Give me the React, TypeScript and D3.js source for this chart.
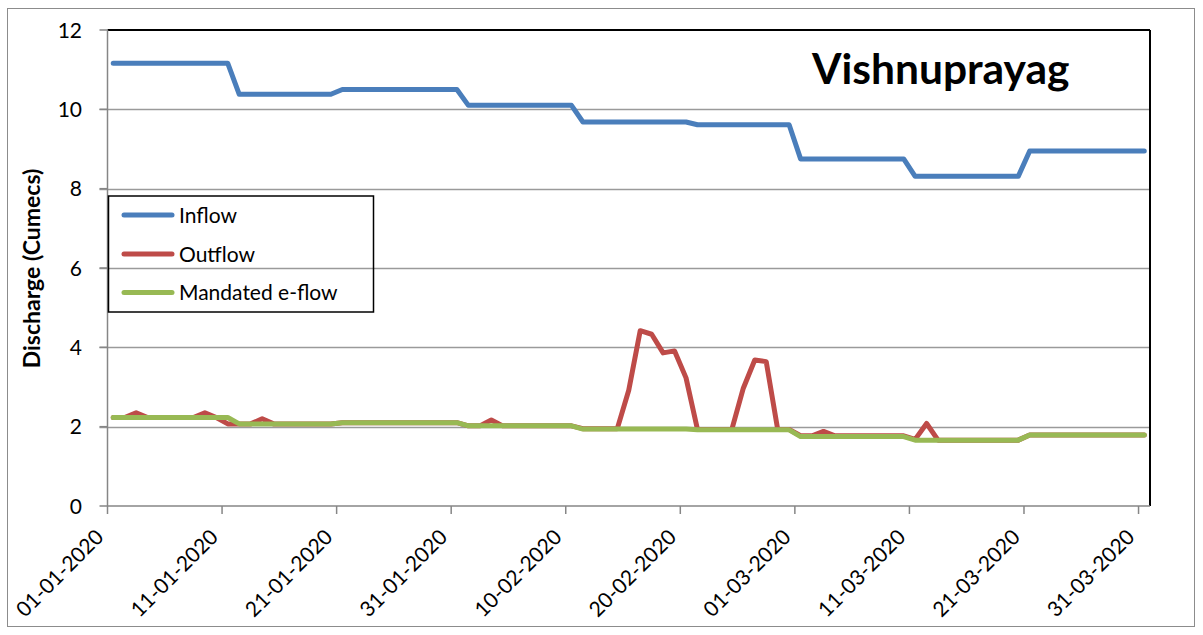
import React from "react";
import * as d3 from "d3";

const tickLabels = [
  "01-01-2020", "11-01-2020", "21-01-2020", "31-01-2020", "10-02-2020",
  "20-02-2020", "01-03-2020", "11-03-2020", "21-03-2020", "31-03-2020",
];
const yTicks = [0, 2, 4, 6, 8, 10, 12];

// daily values, 01-01-2020 .. 31-03-2020 (91 days)
const inflow = [
  11.16, 11.16, 11.16, 11.16, 11.16, 11.16, 11.16, 11.16, 11.16, 11.16, 11.16,
  10.38, 10.38, 10.38, 10.38, 10.38, 10.38, 10.38, 10.38, 10.38,
  10.5, 10.5, 10.5, 10.5, 10.5, 10.5, 10.5, 10.5, 10.5, 10.5, 10.5,
  10.1, 10.1, 10.1, 10.1, 10.1, 10.1, 10.1, 10.1, 10.1, 10.1,
  9.68, 9.68, 9.68, 9.68, 9.68, 9.68, 9.68, 9.68, 9.68, 9.68,
  9.61, 9.61, 9.61, 9.61, 9.61, 9.61, 9.61, 9.61, 9.61,
  8.75, 8.75, 8.75, 8.75, 8.75, 8.75, 8.75, 8.75, 8.75, 8.75,
  8.31, 8.31, 8.31, 8.31, 8.31, 8.31, 8.31, 8.31, 8.31, 8.31,
  8.95, 8.95, 8.95, 8.95, 8.95, 8.95, 8.95, 8.95, 8.95, 8.95, 8.95,
];
const outflow = [
  2.23, 2.23, 2.35, 2.23, 2.23, 2.23, 2.23, 2.23, 2.35, 2.23, 2.07,
  2.07, 2.07, 2.2, 2.07, 2.07, 2.07, 2.07, 2.07, 2.07,
  2.1, 2.1, 2.1, 2.1, 2.1, 2.1, 2.1, 2.1, 2.1, 2.1, 2.1,
  2.02, 2.02, 2.17, 2.02, 2.02, 2.02, 2.02, 2.02, 2.02, 2.02,
  1.95, 1.95, 1.95, 1.95, 2.92, 4.42, 4.33, 3.86, 3.91, 3.23,
  1.93, 1.93, 1.93, 1.93, 2.97, 3.68, 3.64, 1.93, 1.93,
  1.77, 1.77, 1.88, 1.77, 1.77, 1.77, 1.77, 1.77, 1.77, 1.77,
  1.68, 2.08, 1.66, 1.66, 1.66, 1.66, 1.66, 1.66, 1.66, 1.66,
  1.79, 1.79, 1.79, 1.79, 1.79, 1.79, 1.79, 1.79, 1.79, 1.79, 1.79,
];
const eflow = [
  2.23, 2.23, 2.23, 2.23, 2.23, 2.23, 2.23, 2.23, 2.23, 2.23, 2.23,
  2.07, 2.07, 2.07, 2.07, 2.07, 2.07, 2.07, 2.07, 2.07,
  2.1, 2.1, 2.1, 2.1, 2.1, 2.1, 2.1, 2.1, 2.1, 2.1, 2.1,
  2.02, 2.02, 2.02, 2.02, 2.02, 2.02, 2.02, 2.02, 2.02, 2.02,
  1.94, 1.94, 1.94, 1.94, 1.94, 1.94, 1.94, 1.94, 1.94, 1.94,
  1.92, 1.92, 1.92, 1.92, 1.92, 1.92, 1.92, 1.92, 1.92,
  1.75, 1.75, 1.75, 1.75, 1.75, 1.75, 1.75, 1.75, 1.75, 1.75,
  1.66, 1.66, 1.66, 1.66, 1.66, 1.66, 1.66, 1.66, 1.66, 1.66,
  1.79, 1.79, 1.79, 1.79, 1.79, 1.79, 1.79, 1.79, 1.79, 1.79, 1.79,
];

const seriesNames = ["Inflow", "Outflow", "Mandated e-flow"];
const seriesColors = ["#4A7EBB", "#BE4B48", "#98B954"];

const FONT = "Lato, 'Noto Sans', sans-serif";

export default function App() {
  const left = 107.5, right = 1150, top = 30, bottom = 506;
  const x = d3.scaleLinear().domain([0, 91]).range([left, right]);
  const y = d3.scaleLinear().domain([0, 12]).range([bottom, top]);
  const line = d3
    .line<number>()
    .x((_, i) => x(i + 0.5))
    .y((v) => y(v));
  const series = [inflow, outflow, eflow];
  const tickDays = tickLabels.map((_, i) => i * 10);
  const legendY = [215, 254, 292.5];

  return (
    <svg
      width={1203}
      height={635}
      style={{ position: "absolute", left: 0, top: 0, background: "#fff" }}
      fontFamily={FONT}
    >
      <rect x={7.5} y={8.5} width={1187} height={618} fill="#fff" stroke="#8c8c8c" strokeWidth={1} />
      {/* gridlines */}
      {yTicks.filter((t) => t > 0 && t < 12).map((t) => (
        <line key={"g" + t} x1={left - 8} x2={right} y1={Math.round(y(t)) + 0.5} y2={Math.round(y(t)) + 0.5} stroke="#9a9a9a" strokeWidth={1.3} />
      ))}
      {/* plot border top/right */}
      <line x1={left} x2={right} y1={top} y2={top} stroke="#000" strokeWidth={2} />
      <line x1={right} x2={right} y1={top} y2={bottom} stroke="#000" strokeWidth={2} />
      {/* y axis */}
      <line x1={left} x2={left} y1={top} y2={bottom} stroke="#868686" strokeWidth={1.5} />
      {yTicks.map((t) => (
        <g key={"yt" + t}>
          <line x1={left - 8} x2={left} y1={y(t)} y2={y(t)} stroke="#868686" strokeWidth={1.5} />
          <text x={82} y={y(t)} dy="0.36em" textAnchor="end" fontSize={21} fill="#000">
            {t}
          </text>
        </g>
      ))}
      {/* x axis */}
      <line x1={left} x2={right} y1={bottom} y2={bottom} stroke="#868686" strokeWidth={1.5} />
      {tickDays.map((d, i) => (
        <g key={"xt" + d}>
          <line x1={x(d)} x2={x(d)} y1={bottom} y2={bottom + 8} stroke="#868686" strokeWidth={1.5} />
          <text
            transform={`translate(${x(d) - 8},${533}) rotate(-45)`}
            textAnchor="end"
            dy="0.36em"
            fontSize={21}
            fill="#000"
          >
            {tickLabels[i]}
          </text>
        </g>
      ))}
      {/* series */}
      {series.map((s, i) => (
        <path
          key={seriesNames[i]}
          d={line(s) || ""}
          fill="none"
          stroke={seriesColors[i]}
          strokeWidth={5}
          strokeLinejoin="round"
          strokeLinecap="round"
        />
      ))}
      {/* y label */}
      <text
        transform={`translate(40,268.5) rotate(-90)`}
        textAnchor="middle"
        fontSize={23}
        fontWeight="bold"
        fill="#000"
      >
        Discharge (Cumecs)
      </text>
      {/* title */}
      <text x={812} y={84} fontSize={42.5} fontWeight="bold" fill="#000">
        Vishnuprayag
      </text>
      {/* legend */}
      <rect x={108.5} y={196} width={265} height={116} fill="none" stroke="#000" strokeWidth={1.5} />
      {seriesNames.map((n, i) => (
        <g key={"lg" + n}>
          <line x1={124} x2={172} y1={legendY[i]} y2={legendY[i]} stroke={seriesColors[i]} strokeWidth={5} strokeLinecap="round" />
          <text x={179} y={legendY[i]} dy="0.36em" fontSize={21} fill="#000">
            {n}
          </text>
        </g>
      ))}
    </svg>
  );
}
